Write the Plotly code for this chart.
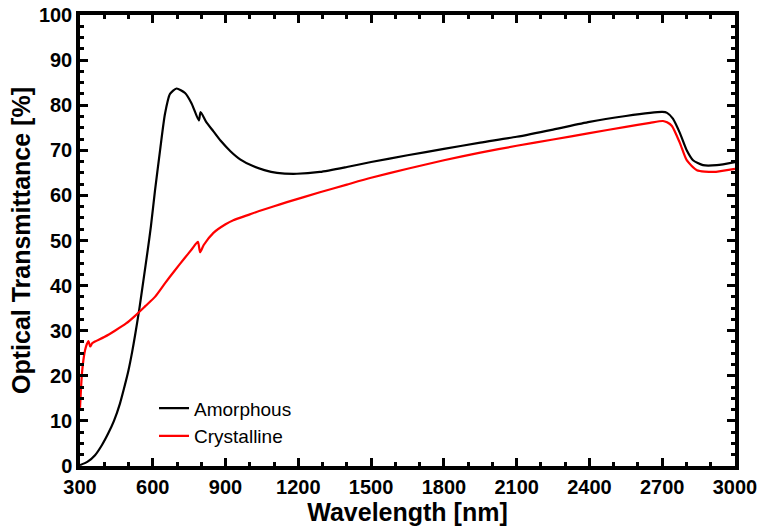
import plotly.graph_objects as go

wl_amorphous = [300, 330, 362, 390, 417, 440, 465, 480, 499, 515, 527, 544, 561, 579, 592, 609, 630, 650, 671, 698,
                733, 760, 790, 797, 820, 850, 880, 920, 960, 1013, 1060, 1112, 1194, 1289, 1400,
                1500, 1650, 1800, 1950, 2100, 2250, 2400, 2550, 2650, 2700, 2720, 2744, 2773, 2801, 2827,
                2868, 2925, 3000]
t_amorphous = [0.2, 0.9, 2.4, 4.6, 7.3, 10.0, 13.9, 16.9, 21.0, 25.3, 29.0, 34.6, 41.0, 47.8, 53.0, 61.0, 70.0, 78.0, 82.5, 83.7,
               82.7, 80.4, 76.6, 78.5, 76.3, 74.2, 72.1, 69.8, 68.0, 66.5, 65.6, 65.0, 64.8, 65.2, 66.3,
               67.4, 68.9, 70.3, 71.7, 73.0, 74.6, 76.3, 77.6, 78.3, 78.5, 78.3, 77.0, 73.8, 70.0, 67.8,
               66.7, 66.7, 67.4]

wl_crystalline = [300, 304, 308, 314, 321, 328, 335, 342, 350, 362, 400, 444, 490, 527, 570, 609, 650, 690,
                  730, 760, 786, 795, 810, 850, 900, 932, 1000, 1042, 1100, 1153, 1289, 1400, 1500, 1650, 1800,
                  1950, 2100, 2250, 2400, 2550, 2650, 2703, 2720, 2740, 2773, 2801, 2843, 2910, 3000]
t_crystalline = [12.9, 17.0, 20.5, 23.5, 25.7, 27.0, 27.7, 26.5, 27.2, 27.6, 28.6, 30.0, 31.6, 33.3, 35.5, 37.5, 40.5, 43.3,
                 46.0, 48.0, 49.7, 47.4, 49.0, 51.7, 53.6, 54.5, 55.8, 56.6, 57.6, 58.5, 60.7, 62.4, 63.9, 65.9, 67.8,
                 69.5, 71.0, 72.4, 73.8, 75.2, 76.1, 76.5, 76.2, 75.4, 71.6, 67.8, 65.6, 65.2, 65.9]

x_ticks = [300, 600, 900, 1200, 1500, 1800, 2100, 2400, 2700, 3000]
y_ticks = [0, 10, 20, 30, 40, 50, 60, 70, 80, 90, 100]

FONT = "Arial, 'Liberation Sans', sans-serif"

fig = go.Figure()
fig.add_trace(go.Scatter(x=wl_amorphous, y=t_amorphous, mode="lines", name="Amorphous",
                         line=dict(color="black", width=2.2, shape="spline", smoothing=0.6)))
fig.add_trace(go.Scatter(x=wl_crystalline, y=t_crystalline, mode="lines", name="Crystalline",
                         line=dict(color="#ff0000", width=2.2, shape="spline", smoothing=0.6)))

axis_common = dict(showline=True, linecolor="black", linewidth=3.5, mirror="allticks",
                   ticks="inside", ticklen=8, tickwidth=3, tickcolor="black",
                   showgrid=False, zeroline=False, automargin=False,
                   tickfont=dict(family=FONT, size=20, color="black", weight="bold"))

fig.update_xaxes(range=[300, 3000], tickvals=x_ticks, ticktext=[str(v) for v in x_ticks],
                 minor=dict(dtick=100, tick0=300, ticks="inside", ticklen=4, tickwidth=2.5, tickcolor="black"),
                 title=dict(text="Wavelength [nm]", font=dict(family=FONT, size=25, color="black", weight="bold"),
                            standoff=2),
                 **axis_common)
fig.update_yaxes(range=[0, 100], tickvals=y_ticks, ticktext=[str(v) for v in y_ticks],
                 minor=dict(dtick=2.5, tick0=0, ticks="inside", ticklen=4, tickwidth=2.5, tickcolor="black"),
                 title=dict(text="Optical Transmittance [%]", font=dict(family=FONT, size=25, color="black", weight="bold"),
                            standoff=2),
                 **axis_common)

fig.update_layout(
    width=760, height=526,
    margin=dict(l=80, r=25, t=15, b=60),
    paper_bgcolor="white", plot_bgcolor="white",
    showlegend=True,
    legend=dict(x=0.113, y=0.17, xanchor="left", yanchor="top",
                font=dict(family=FONT, size=19, color="black"),
                bgcolor="rgba(0,0,0,0)", tracegroupgap=0, itemwidth=30),
)

fig.write_html("out.html")
